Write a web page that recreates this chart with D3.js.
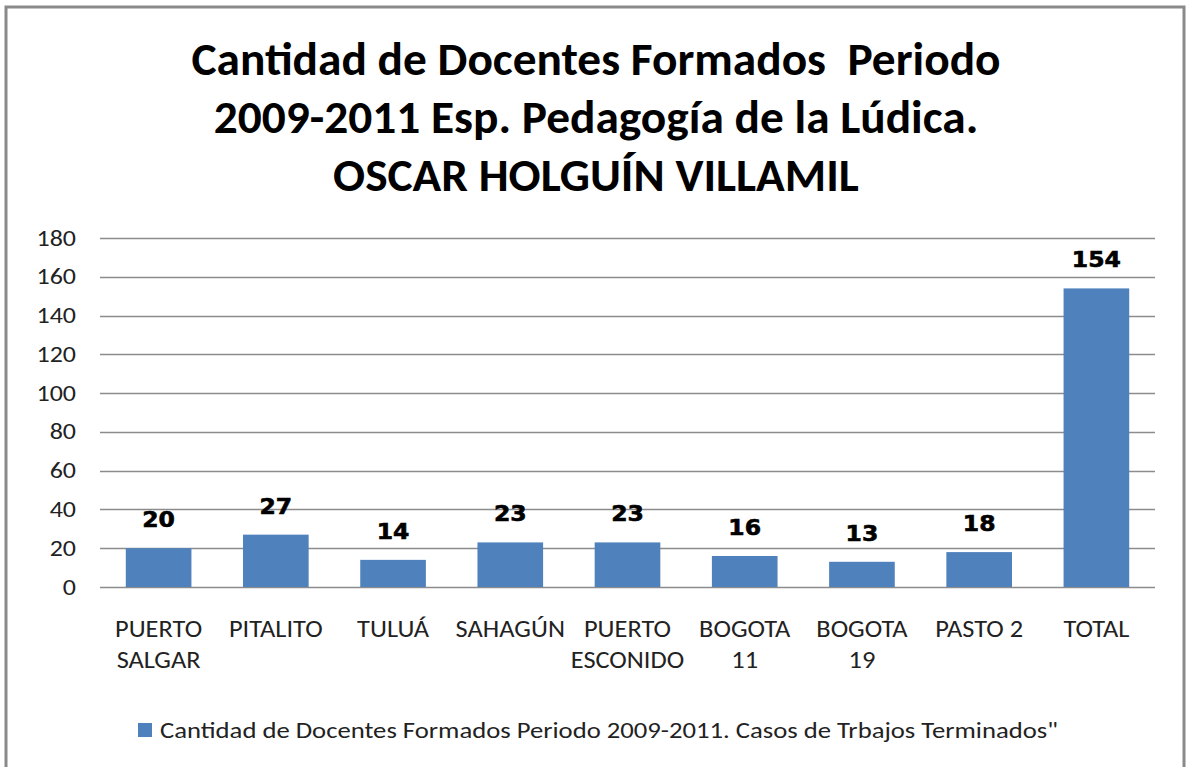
<!DOCTYPE html>
<html>
<head>
<meta charset="utf-8">
<script src="https://cdn.jsdelivr.net/npm/d3@7"></script>
<style>
  body { margin: 0; background: #fff; }
  svg { display: block; }
  text { white-space: pre; }
</style>
</head>
<body>
<div id="chartArea"></div>
<script>
// Chart data
const categories = [
  ["PUERTO", "SALGAR"], ["PITALITO"], ["TULUÁ"], ["SAHAGÚN"], ["PUERTO", "ESCONIDO"],
  ["BOGOTA", "11"], ["BOGOTA", "19"], ["PASTO 2"], ["TOTAL"]
];
const values = [20, 27, 14, 23, 23, 16, 13, 18, 154];
const yTicks = [0, 20, 40, 60, 80, 100, 120, 140, 160, 180];
const titleLines = [
  "Cantidad de Docentes Formados  Periodo",
  "2009-2011 Esp. Pedagogía de la Lúdica.",
  "OSCAR HOLGUÍN VILLAMIL"
];
const legendText = "Cantidad de Docentes Formados Periodo 2009-2011. Casos de Trbajos Terminados\"";

const width = 1187, height = 767;
const margin = { left: 100, right: 32 };
const font = "Carlito, Calibri, 'Open Sans', sans-serif";

const svg = d3.select("#chartArea").append("svg")
  .attr("width", width).attr("height", height);

// frame
svg.append("rect")
  .attr("x", 6).attr("y", 7).attr("width", 1178).attr("height", 775)
  .attr("fill", "#fff").attr("stroke", "#8a8a8a").attr("stroke-width", 3);

// title
svg.append("g").selectAll("text")
  .data(titleLines).join("text")
  .attr("transform", (d, i) => `translate(596, ${75 + i * 58}) scale(1.03, 1)`)
  .attr("text-anchor", "middle")
  .attr("font-family", font).attr("font-weight", "bold").attr("font-size", 46)
  .attr("fill", "#000")
  .text(d => d);

const idx = categories.map((d, i) => i);
const x = d3.scaleBand().domain(idx)
  .range([margin.left, width - margin.right]).paddingInner(0.44).paddingOuter(0.22);
const y = d3.scaleLinear().domain([0, 180]).range([587, 238]);

// grid
svg.append("g").selectAll("line")
  .data(yTicks).join("line")
  .attr("x1", margin.left).attr("x2", width - margin.right)
  .attr("y1", d => Math.round(y(d)) + 0.5).attr("y2", d => Math.round(y(d)) + 0.5)
  .attr("stroke", "#8c8c8c").attr("stroke-width", 1.3);

// y axis labels
const tickSx = 1.18;
const yAxis = svg.append("g")
  .attr("transform", `translate(${margin.left}, 0)`)
  .call(d3.axisLeft(y).tickValues(yTicks).tickSize(0).tickPadding(0));
yAxis.select(".domain").remove();
yAxis.selectAll("text")
  .attr("x", -24 / tickSx)
  .attr("transform", `scale(${tickSx}, 1)`)
  .attr("font-family", font).attr("font-size", 22).attr("fill", "#222");

// bars
svg.append("g").selectAll("rect")
  .data(values).join("rect")
  .attr("x", (d, i) => x(i)).attr("width", x.bandwidth())
  .attr("y", d => y(d)).attr("height", d => y(0) - y(d))
  .attr("fill", "#4f81bd");

// value labels
svg.append("g").selectAll("text")
  .data(values).join("text")
  .attr("transform", (d, i) => `translate(${x(i) + x.bandwidth() / 2}, ${y(d) - 21}) scale(1.12, 1)`)
  .attr("text-anchor", "middle")
  .attr("font-family", "'DejaVu Sans', sans-serif").attr("font-weight", "bold").attr("font-size", 21)
  .attr("stroke", "#000").attr("stroke-width", 0.6)
  .attr("fill", "#000")
  .text(d => d);

// x labels
const xl = svg.append("g").selectAll("g")
  .data(categories).join("g")
  .attr("transform", (d, i) => `translate(${x(i) + x.bandwidth() / 2}, 0) scale(1.1, 1)`);
xl.selectAll("text").data(d => d).join("text")
  .attr("y", (d, j) => 637 + j * 31)
  .attr("text-anchor", "middle")
  .attr("font-family", font).attr("font-size", 24).attr("fill", "#222")
  .text(d => d);

// legend
svg.append("rect")
  .attr("x", 138).attr("y", 723).attr("width", 14).attr("height", 14)
  .attr("fill", "#4f81bd");
svg.append("text")
  .attr("transform", "translate(160, 738) scale(1.16, 1)")
  .attr("font-family", font).attr("font-size", 23).attr("fill", "#222")
  .text(legendText);
</script>
</body>
</html>
